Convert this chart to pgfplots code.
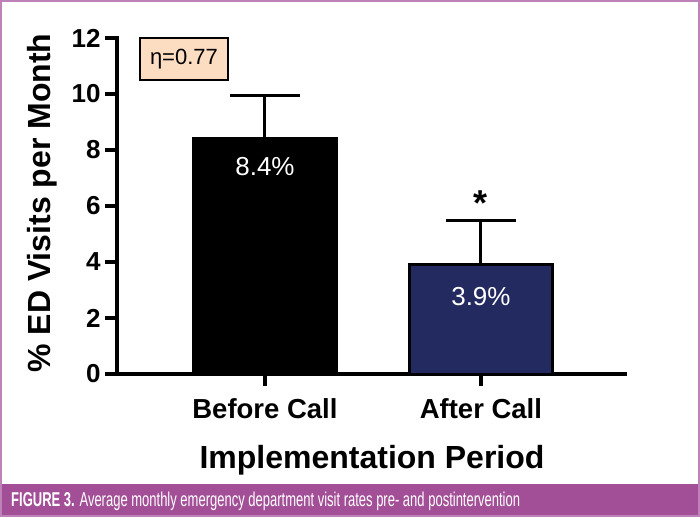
\documentclass[border=0pt]{standalone}
\usepackage{pgfplots}
\pgfplotsset{compat=1.18}
\usepackage{fontspec}
\setmainfont{Liberation Sans}
\usepackage{graphicx}
\definecolor{navybar}{RGB}{35,42,95}
\definecolor{peach}{RGB}{252,221,194}
\definecolor{band}{RGB}{163,79,152}
\definecolor{frame}{RGB}{190,130,185}
\begin{document}
\begin{tikzpicture}
\begin{axis}[
  at={(117pt,143pt)}, anchor=south west,
  scale only axis, width=508pt, height=336pt,
  xmin=-0.685, xmax=1.667, ymin=0, ymax=12,
  axis lines*=left,
  axis line style={line width=4pt, line cap=rect},
  every tick/.style={line width=4pt, black},
  tick align=outside,
  major tick length=12pt,
  xtick={0,1}, xticklabels={Before Call, After Call},
  ytick={0,2,4,6,8,10,12},
  /pgf/number format/assume math mode=true,
  yticklabel style={font=\bfseries\fontsize{26}{26}\selectfont, xshift=-1pt},
  xticklabel style={font=\bfseries\fontsize{27.5}{27.5}\selectfont, yshift=-9pt},
  xlabel={Implementation Period},
  ylabel={\% ED Visits per Month},
  label style={font=\bfseries\fontsize{32}{32}\selectfont},
  xlabel style={at={(axis description cs:0.502,-0.256)}, anchor=center},
  ylabel style={at={(axis description cs:-0.148,0.509)}, anchor=center, rotate=0},
  ybar, bar width=143pt,
  clip=false,
]
\addplot[bar shift=0pt, fill=black, draw=black, line width=3pt,
  error bars/.cd, y dir=plus, y explicit,
  error bar style={line width=3pt, black},
  error mark options={line width=3pt, mark size=35pt, black, rotate=90}]
  coordinates {(0,8.4) +- (0,1.53)};
\addplot[bar shift=0pt, fill=navybar, draw=black, line width=3pt,
  error bars/.cd, y dir=plus, y explicit,
  error bar style={line width=3pt, black},
  error mark options={line width=3pt, mark size=35pt, black, rotate=90}]
  coordinates {(1,3.9) +- (0,1.6)};
\node[text=white, font=\fontsize{26}{26}\selectfont] at (axis cs:0,7.4) {8.4\%};
\node[text=white, font=\fontsize{26}{26}\selectfont] at (axis cs:1,2.75) {3.9\%};
\node[font=\bfseries\fontsize{36}{36}\selectfont] at (axis cs:1,6.1) {*};
\node[draw=black, line width=2pt, fill=peach, minimum width=88pt, minimum height=42pt,
  inner sep=0pt, font=\fontsize{22}{22}\selectfont] at (axis cs:-0.375,11.25) {η=0.77};
\end{axis}
\fill[band] (0pt,0pt) rectangle (700pt,33pt);
\node[anchor=west, text=white, inner sep=0pt] at (11pt,16pt)
  {\scalebox{0.65}[1]{\fontsize{20}{20}\selectfont\textbf{FIGURE 3.} Average monthly emergency department visit rates pre- and postintervention}};
\draw[frame, line width=2pt] (1pt,1pt) rectangle (699pt,516pt);
\pgfresetboundingbox
\path (0pt,0pt) rectangle (700pt,517pt);
\end{tikzpicture}
\end{document}
